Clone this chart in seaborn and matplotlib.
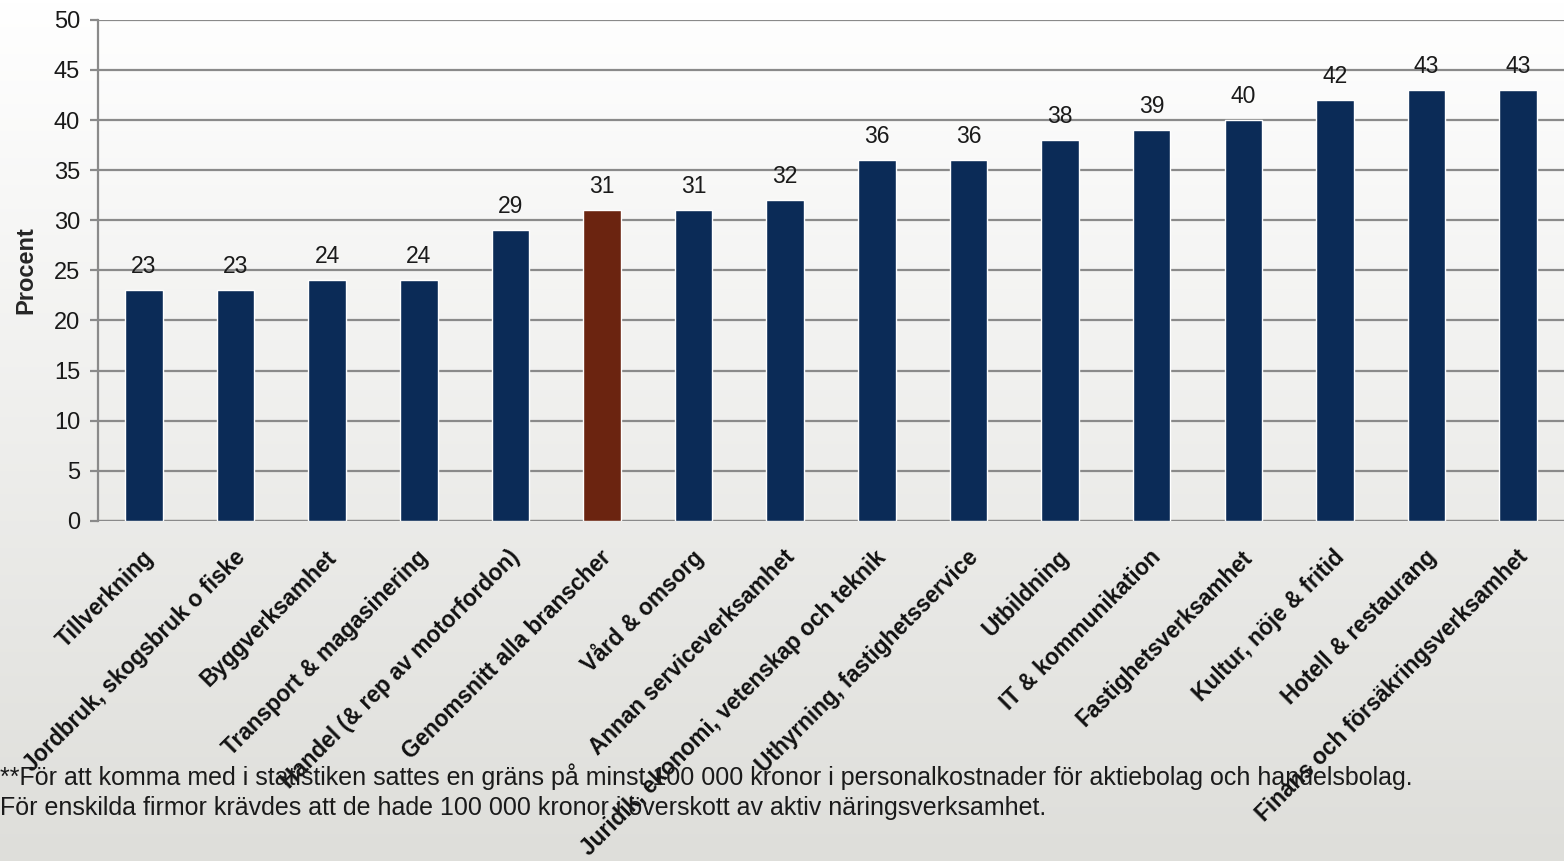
import numpy as np
import pandas as pd
import seaborn as sns
import matplotlib.pyplot as plt
import matplotlib.transforms as mtransforms
from matplotlib.colors import LinearSegmentedColormap

categories = [
    "Tillverkning",
    "Jordbruk, skogsbruk o fiske",
    "Byggverksamhet",
    "Transport & magasinering",
    "Handel (& rep av motorfordon)",
    "Genomsnitt alla branscher",
    "Vård & omsorg",
    "Annan serviceverksamhet",
    "Juridik, ekonomi, vetenskap och teknik",
    "Uthyrning, fastighetsservice",
    "Utbildning",
    "IT & kommunikation",
    "Fastighetsverksamhet",
    "Kultur, nöje & fritid",
    "Hotell & restaurang",
    "Finans och försäkringsverksamhet",
]
values = [23, 23, 24, 24, 29, 31, 31, 32, 36, 36, 38, 39, 40, 42, 43, 43]
highlight = "Genomsnitt alla branscher"

footnote_lines = [
    "**För att komma med i statistiken sattes en gräns på minst 100 000 kronor i personalkostnader för aktiebolag och handelsbolag.",
    "För enskilda firmor krävdes att de hade 100 000 kronor i överskott av aktiv näringsverksamhet.",
]

NAVY = "#0b2b57"
BROWN = "#6b2410"
GRID = "#8a8a8a"

sns.set_theme(style="white")
plt.rcParams['font.family'] = ['Liberation Sans', 'DejaVu Sans']

df = pd.DataFrame({"bransch": categories, "procent": values})
palette = {c: (BROWN if c == highlight else NAVY) for c in categories}

fig = plt.figure(figsize=(15.64, 8.61), dpi=100)

# gradient background, white at top to light grey at bottom
bg = fig.add_axes([0, 0, 1, 1], zorder=-10)
grad = np.linspace(0, 1, 256).reshape(-1, 1)
cmap = LinearSegmentedColormap.from_list("bg", ["#ffffff", "#dededa"])
bg.imshow(grad, aspect="auto", cmap=cmap, extent=[0, 1, 0, 1], origin="upper")
bg.set_axis_off()

ax = fig.add_axes([0.0627, 0.395, 0.9373, 0.582])
ax.patch.set_alpha(0)
sns.barplot(data=df, x="bransch", y="procent", hue="bransch", palette=palette,
            width=0.41, legend=False, ax=ax, zorder=3, saturation=1)

ax.set_ylim(0, 50)
ax.set_xlim(-0.5, len(categories) - 0.5)
ax.set_yticks(range(0, 51, 5))
ax.yaxis.grid(True, color=GRID, linewidth=1.6, zorder=0)
ax.set_axisbelow(True)
for s in ["top", "right", "bottom"]:
    ax.spines[s].set_visible(False)
ax.spines["left"].set_color(GRID)
ax.spines["left"].set_linewidth(1.6)
ax.axhline(0, color=GRID, linewidth=1.6, zorder=2)

# tick marks sit between categories
ax.set_xticks(np.arange(len(categories)))
ax.set_xticks(np.arange(-0.5, len(categories), 1), minor=True)
ax.tick_params(axis="x", which="major", length=0, pad=0)
ax.tick_params(axis="x", which="minor", length=6, color=GRID, width=1.6, direction="out")
ax.tick_params(axis="y", length=6, color=GRID, width=1.6, direction="out",
               labelsize=17, pad=7, labelcolor="#1a1a1a")
ax.yaxis.set_tick_params(which="both", left=True)

ax.set_xticklabels(categories, rotation=45, ha="right", va="center",
                   rotation_mode="anchor", fontsize=16.3, fontweight="bold",
                   color="#111111")
offset = mtransforms.ScaledTranslation(6 / 100, -33 / 100, fig.dpi_scale_trans)
for lbl in ax.get_xticklabels():
    lbl.set_transform(lbl.get_transform() + offset)
    lbl.set_zorder(5)

ax.set_xlabel("")
ax.set_ylabel("Procent", fontsize=17, fontweight="bold", labelpad=12)

for i, v in enumerate(values):
    ax.annotate(str(v), (i, v), xytext=(0, 17), textcoords="offset points",
                ha="center", va="center", fontsize=16.5, color="#1a1a1a")

fig.text(0.0, 1 - 777 / 861, footnote_lines[0], ha="left", va="center",
         fontsize=18, color="#1a1a1a", zorder=1)
fig.text(0.0, 1 - 808 / 861, footnote_lines[1], ha="left", va="center",
         fontsize=18, color="#1a1a1a", zorder=1)

fig.savefig("out.png", dpi=100)
